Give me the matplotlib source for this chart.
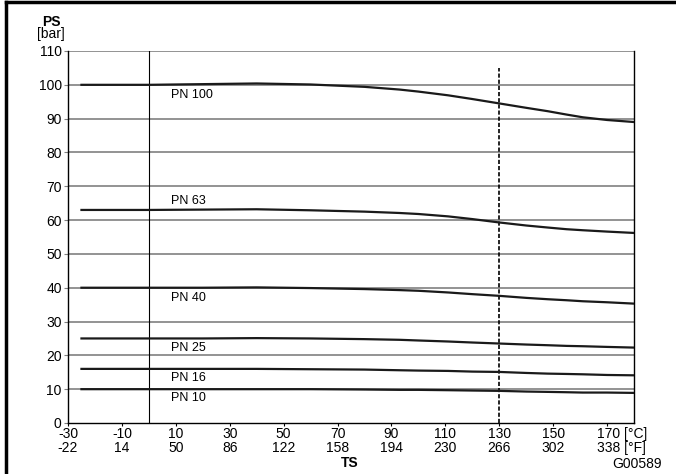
import matplotlib
matplotlib.use("Agg")
from matplotlib import pyplot as plt
from matplotlib.lines import Line2D

plt.rcParams['font.family'] = ['Liberation Sans', 'DejaVu Sans']

# temperature points (°C) and pressure ratings (bar)
ts = [-25, 0, 20, 40, 60, 80, 93, 100, 111, 120, 130, 140, 148, 155, 161, 170, 180]
pn100 = [100, 100, 100.2, 100.4, 100.1, 99.4, 98.6, 98.0, 96.9, 95.8, 94.5, 93.2, 92.2, 91.2, 90.4, 89.6, 89.0]
pn63 = [63, 63, 63.1, 63.2, 62.9, 62.5, 62.1, 61.8, 61.1, 60.3, 59.3, 58.4, 57.8, 57.3, 57.0, 56.6, 56.2]
pn40 = [40, 40, 40.0, 40.1, 39.9, 39.6, 39.3, 39.1, 38.6, 38.1, 37.6, 37.0, 36.6, 36.3, 36.0, 35.7, 35.3]
pn25 = [25, 25, 25.0, 25.1, 25.0, 24.8, 24.6, 24.4, 24.1, 23.8, 23.5, 23.2, 23.0, 22.8, 22.7, 22.5, 22.3]
pn16 = [16, 16, 16.0, 16.0, 15.9, 15.8, 15.6, 15.5, 15.4, 15.2, 15.1, 14.8, 14.6, 14.5, 14.4, 14.2, 14.1]
pn10 = [10, 10, 10.0, 10.0, 10.0, 9.9, 9.8, 9.8, 9.7, 9.6, 9.5, 9.3, 9.2, 9.1, 9.0, 9.0, 8.9]
curves = [pn100, pn63, pn40, pn25, pn16, pn10]
labels = ['PN 100', 'PN 63', 'PN 40', 'PN 25', 'PN 16', 'PN 10']
label_y = [97.0, 65.5, 37.0, 22.1, 13.2, 7.3]

x_c = [-30, -10, 10, 30, 50, 70, 90, 110, 130, 150, 170]
x_f = [-22, 14, 50, 86, 122, 158, 194, 230, 266, 302, 338]
y_ticks = list(range(0, 111, 10))

fig = plt.figure(figsize=(6.76, 4.74), dpi=100)
ax = fig.add_axes([68 / 676, 51 / 474, 566 / 676, 372 / 474])

for y in y_ticks[1:]:
    ax.axhline(y, color='#808080', lw=1.2, zorder=1)
ax.axvline(0, color='black', lw=0.8, zorder=2)
ax.plot([130, 130], [0, 105], color='black', lw=1.2, ls=(0, (2.5, 1.2)), zorder=3)

for vals, lab, ly in zip(curves, labels, label_y):
    ax.plot(ts, vals, color='#1a1a1a', lw=1.6, zorder=4)
    ax.text(8.4, ly, lab, fontsize=9, ha='left', va='center', zorder=5)

ax.set_xlim(-30, 180)
ax.set_ylim(0, 110)
ax.set_yticks(y_ticks)
ax.set_yticklabels([str(v) for v in y_ticks], fontsize=10)
ax.set_xticks(x_c)
xl = ['%d\n%d' % (c, f) for c, f in zip(x_c, x_f)]
xl[-1] = ''
ax.set_xticklabels(xl, fontsize=10, linespacing=1.0)
# last label carries the units, left-aligned so the number stays on its tick
ax.annotate('%d [°C]\n%d [°F]' % (x_c[-1], x_f[-1]), xy=(x_c[-1], 0),
            xycoords=ax.get_xaxis_transform(), xytext=(-7.3, -3), textcoords='offset points',
            ha='left', va='top', fontsize=10, linespacing=1.0, multialignment='left')
ax.tick_params(axis='y', length=3, color='#808080', pad=1.5)
ax.tick_params(axis='x', length=2.5, color='black', pad=0.5)
ax.spines['top'].set_visible(False)
for s in ['left', 'bottom', 'right']:
    ax.spines[s].set_linewidth(1.0)

fig.text(51 / 676, 1 - 26 / 474, 'PS', fontsize=10, fontweight='bold', ha='center', va='baseline')
fig.text(51 / 676, 1 - 38 / 474, '[bar]', fontsize=10, ha='center', va='baseline')
fig.text(350 / 676, 1 - 463 / 474, 'TS', fontsize=10, fontweight='bold', ha='center', va='center')
fig.text(662 / 676, 1 - 464 / 474, 'G00589', fontsize=10, ha='right', va='center')

# partial frame: top and left edges only
fig.add_artist(Line2D([6 / 676, 1], [1 - 2 / 474, 1 - 2 / 474], transform=fig.transFigure,
                      color='black', lw=2.5))
fig.add_artist(Line2D([6 / 676, 6 / 676], [0, 1 - 2 / 474], transform=fig.transFigure,
                      color='black', lw=2.5))

fig.savefig('out.png', dpi=100)
